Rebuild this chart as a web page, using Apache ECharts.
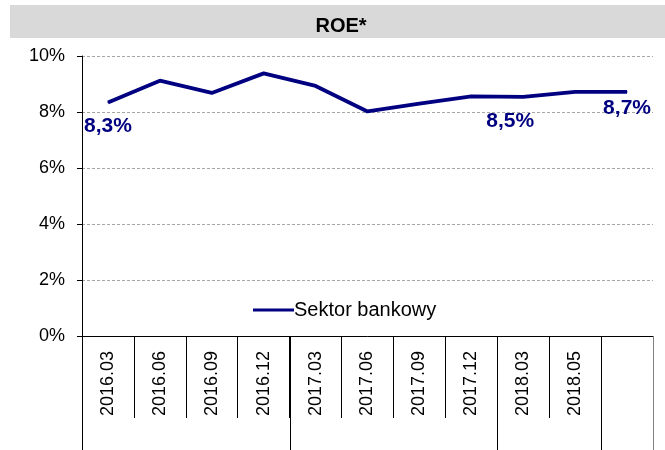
<!DOCTYPE html>
<html>
<head>
<meta charset="utf-8">
<script src="https://cdn.jsdelivr.net/npm/echarts@6/dist/echarts.min.js"></script>
<style>
  html, body { margin: 0; padding: 0; background: #fff; }
  #chart { width: 665px; height: 450px; }
</style>
</head>
<body>
<div id="chart"></div>
<script>
// dane
const categories = ['2016.03', '2016.06', '2016.09', '2016.12', '2017.03', '2017.06', '2017.09', '2017.12', '2018.03', '2018.05', ''];
const roeSektor = [8.34, 9.12, 8.68, 9.38, 8.93, 8.02, 8.3, 8.56, 8.54, 8.72, 8.72];
const yTicks = [0, 2, 4, 6, 8, 10];
const labelIdx = [0, 8, 10]; // punkty z etykietą

const NAVY = '#000080';
const FONT = 'Liberation Sans, Arial, sans-serif';

const chart = echarts.init(document.getElementById('chart'), null, { renderer: 'canvas' });

// przesunięcia etykiet
const labelOffsets = { 0: [0, 8], 8: [-13, 8], 10: [0, 0] };

const seriesData = roeSektor.map((v, i) => {
  const item = { value: v };
  if (labelIdx.includes(i)) {
    item.label = {
      show: true,
      position: 'bottom',
      distance: 5,
      offset: labelOffsets[i] || [0, 0],
      formatter: (p) => p.value.toFixed(1).replace('.', ',') + '%',
    };
  }
  return item;
});

const options = {
  animation: false,
  backgroundColor: '#fff',
  title: {
    text: 'ROE*',
    left: 336,
    top: 11,
    textAlign: 'center',
    textStyle: { fontFamily: FONT, fontSize: 20, fontWeight: 'bold', color: '#000' },
  },
  legend: {
    left: 248,
    top: 295,
    itemWidth: 41,
    itemHeight: 20,
    icon: 'path://M0,8.5 L41,8.5 L41,11.5 L0,11.5 Z',
    textStyle: { fontFamily: FONT, fontSize: 20, color: '#000', padding: [0, 0, 0, -5] },
    data: ['Sektor bankowy'],
  },
  grid: {
    left: 82,
    right: 12,
    top: 56,
    bottom: 114,
    containLabel: false,
  },
  xAxis: {
    type: 'category',
    data: categories,
    boundaryGap: true,
    axisLine: { show: true, lineStyle: { color: '#000', width: 1 } },
    axisTick: { show: true, interval: 0, length: 82, lineStyle: { color: '#000', width: 1 } },
    axisLabel: {
      interval: 0,
      rotate: 90,
      margin: 15,
      fontFamily: FONT,
      fontSize: 18,
      color: '#000',
    },
    splitLine: { show: false },
  },
  yAxis: {
    type: 'value',
    min: yTicks[0],
    max: yTicks[yTicks.length - 1],
    interval: yTicks[1] - yTicks[0],
    axisLine: { show: true, lineStyle: { color: '#000', width: 1 } },
    axisTick: { show: true, length: 5, lineStyle: { color: '#000' } },
    axisLabel: {
      formatter: '{value}%',
      margin: 17,
      fontFamily: FONT,
      fontSize: 18,
      color: '#000',
    },
    splitLine: {
      show: true,
      lineStyle: { type: [3, 2], color: '#a6a6a6', width: 1 },
    },
  },
  series: [
    {
      name: 'Sektor bankowy',
      type: 'line',
      data: seriesData,
      showSymbol: true,
      symbol: 'circle',
      symbolSize: 1,
      lineStyle: { color: NAVY, width: 3.8 },
      itemStyle: { color: NAVY },
      label: {
        show: false,
        fontFamily: FONT,
        fontSize: 21,
        fontWeight: 'bold',
        color: NAVY,
      },
    },
  ],
};

chart.setOption(options);

// pasek tytułu i długie linie grup (lata) pod osią
const drawExtras = () => {
  const c0 = chart.convertToPixel({ xAxisIndex: 0 }, 0);
  const c1 = chart.convertToPixel({ xAxisIndex: 0 }, 1);
  const band = c1 - c0;
  const yBase = chart.convertToPixel({ yAxisIndex: 0 }, 0);

  // granice grup: początek, zmiana roku, koniec
  const bounds = [0];
  for (let i = 1; i < categories.length; i++) {
    if (categories[i].slice(0, 4) !== categories[i - 1].slice(0, 4)) bounds.push(i);
  }
  bounds.push(categories.length);

  const lines = bounds.map((b, k) => {
    const x = Math.round(c0 + (b - 0.5) * band) + 0.5;
    return {
      type: 'line',
      shape: { x1: x, y1: yBase, x2: x, y2: 450 },
      style: { stroke: k === bounds.length - 1 ? '#808080' : '#000', lineWidth: 1 },
      z: 10,
    };
  });

  chart.setOption({
    graphic: [
      {
        type: 'rect',
        shape: { x: 10, y: 5, width: 655, height: 33 },
        style: { fill: '#d9d9d9' },
        z: -1,
      },
      ...lines,
    ],
  });
};
drawExtras();
</script>
</body>
</html>
